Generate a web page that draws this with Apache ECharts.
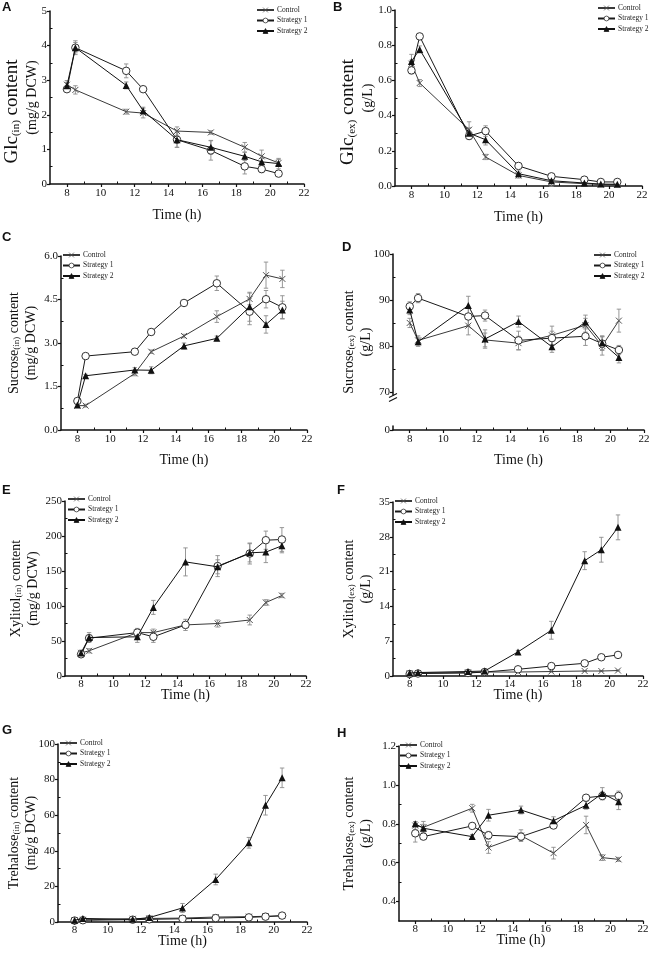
<!DOCTYPE html>
<html><head><meta charset="utf-8">
<script src="https://cdn.jsdelivr.net/npm/echarts@6/dist/echarts.min.js"></script>
<style>html,body{margin:0;padding:0;background:#fff}#c{width:658px;height:964px}</style>
</head><body><div id="c"></div>
<script>
// ---------------- DATA ----------------
const times = [8, 8.5, 11.5, 12.5, 14.5, 16.5, 18.5, 19.5, 20.5];
const xTickValues = [8, 10, 12, 14, 16, 18, 20, 22];
const xMinorValues = [9, 11, 13, 15, 17, 19, 21];
const seriesNames = ['Control', 'Strategy 1', 'Strategy 2'];
const panelLetters = ['A', 'B', 'C', 'D', 'E', 'F', 'G', 'H'];
const xName = 'Time (h)';

// y-axis names: [compound, subscript, line-1 tail, line 2]
const yNameA = ['Glc', '(in)', ' content', '(mg/g DCW)'];
const yNameB = ['Glc', '(ex)', ' content', '(g/L)'];
const yNameC = ['Sucrose', '(in)', ' content', '(mg/g DCW)'];
const yNameD = ['Sucrose', '(ex)', ' content', '(g/L)'];
const yNameE = ['Xylitol', '(in)', ' content', '(mg/g DCW)'];
const yNameF = ['Xylitol', '(ex)', ' content', '(g/L)'];
const yNameG = ['Trehalose', '(in)', ' content', '(mg/g DCW)'];
const yNameH = ['Trehalose', '(ex)', ' content', '(g/L)'];

// y tick labels and minor ticks
const yTicksA = [0, 1, 2, 3, 4, 5];           const yMinorA = [0.5, 1.5, 2.5, 3.5, 4.5];
const yTicksB = [0, 0.2, 0.4, 0.6, 0.8, 1.0]; const yMinorB = [0.1, 0.3, 0.5, 0.7, 0.9];
const yTicksC = [0, 1.5, 3.0, 4.5, 6.0];      const yMinorC = [0.75, 2.25, 3.75, 5.25];
const yTicksD = [0, 70, 80, 90, 100];         const yMinorD = [75, 85, 95];
const yTicksE = [0, 50, 100, 150, 200, 250];  const yMinorE = [25, 75, 125, 175, 225];
const yTicksF = [0, 7, 14, 21, 28, 35];       const yMinorF = [3.5, 10.5, 17.5, 24.5, 31.5];
const yTicksG = [0, 20, 40, 60, 80, 100];     const yMinorG = [10, 30, 50, 70, 90];
const yTicksH = [0.4, 0.6, 0.8, 1.0, 1.2];    const yMinorH = [0.5, 0.7, 0.9, 1.1];
const yRangeH = [0.3, 1.2];
const yBreakD = {start: 1, end: 69, gap: 6.3};

// Panel A: Glc(in)
const glcInControl = [2.87, 2.72, 2.09, 2.05, 1.53, 1.49, 1.06, 0.80, 0.61];
const glcInControlErr = [0.12, 0.12, 0.07, 0.14, 0.12, 0.05, 0.14, 0.18, 0.10];
const glcInS1 = [2.74, 3.94, 3.27, 2.74, 1.28, 0.97, 0.51, 0.43, 0.30];
const glcInS1Err = [0.06, 0.15, 0.20, 0.08, 0.22, 0.28, 0.22, 0.10, 0.05];
const glcInS2 = [2.84, 3.94, 2.85, 2.12, 1.28, 1.06, 0.80, 0.64, 0.59];
const glcInS2Err = [0.10, 0.20, 0.10, 0.10, 0.22, 0.20, 0.12, 0.10, 0.15];

// Panel B: Glc(ex)
const glcExControl = [0.695, 0.585, 0.32, 0.165, 0.06, 0.023, 0.013, 0.008, 0.008];
const glcExControlErr = [0.02, 0.02, 0.045, 0.015, 0.015, 0.025, 0.005, 0.005, 0.005];
const glcExS1 = [0.657, 0.85, 0.284, 0.312, 0.114, 0.055, 0.036, 0.023, 0.023];
const glcExS1Err = [0.02, 0.01, 0.02, 0.03, 0.015, 0.01, 0.01, 0.005, 0.005];
const glcExS2 = [0.708, 0.776, 0.30, 0.263, 0.07, 0.03, 0.017, 0.011, 0.01];
const glcExS2Err = [0.04, 0.02, 0.03, 0.03, 0.015, 0.01, 0.005, 0.005, 0.005];

// Panel C: Sucrose(in)
const sucInControl = [0.84, 0.84, 1.95, 2.70, 3.24, 3.91, 4.52, 5.34, 5.21];
const sucInControlErr = [0.05, 0.05, 0.08, 0.06, 0.06, 0.20, 0.20, 0.45, 0.30];
const sucInS1 = [1.00, 2.55, 2.70, 3.38, 4.38, 5.06, 4.08, 4.51, 4.23];
const sucInS1Err = [0.05, 0.05, 0.05, 0.05, 0.05, 0.25, 0.45, 0.30, 0.40];
const sucInS2 = [0.86, 1.87, 2.07, 2.06, 2.90, 3.16, 4.25, 3.64, 4.14];
const sucInS2Err = [0.05, 0.05, 0.08, 0.12, 0.10, 0.08, 0.50, 0.30, 0.30];

// Panel D: Sucrose(ex)
const sucExControl = [85.0, 81.2, 84.4, 81.3, 80.6, 82.3, 84.5, 80.0, 85.5];
const sucExControlErr = [1.0, 1.0, 2.0, 1.5, 1.5, 2.0, 1.5, 2.0, 2.5];
const sucExS1 = [88.6, 90.4, 86.4, 86.6, 81.2, 81.7, 82.1, 80.5, 79.1];
const sucExS1Err = [1.0, 1.0, 2.0, 1.2, 2.0, 1.5, 2.0, 1.5, 1.0];
const sucExS2 = [87.8, 80.9, 88.8, 81.5, 85.3, 79.8, 85.2, 80.7, 77.5];
const sucExS2Err = [1.0, 1.0, 2.0, 2.0, 1.2, 1.2, 1.5, 1.5, 1.2];

// Panel E: Xylitol(in)
const xylInControl = [33, 36, 62, 62, 73, 75, 80, 105, 115];
const xylInControlErr = [3, 3, 5, 5, 5, 5, 7, 4, 3];
const xylInS1 = [31, 54, 62, 56, 73, 157, 175, 194, 195];
const xylInS1Err = [3, 5, 6, 8, 8, 15, 15, 13, 17];
const xylInS2 = [33, 55, 56, 98, 163, 156, 176, 177, 186];
const xylInS2Err = [4, 7, 8, 10, 20, 10, 13, 15, 10];

// Panel F: Xylitol(ex)
const xylExControl = [0.5, 0.6, 0.7, 0.8, 0.8, 0.9, 1.0, 1.0, 1.1];
const xylExControlErr = [0.1, 0.1, 0.1, 0.1, 0.1, 0.1, 0.1, 0.1, 0.1];
const xylExS1 = [0.4, 0.5, 0.6, 0.8, 1.35, 2.0, 2.55, 3.77, 4.24];
const xylExS1Err = [0.1, 0.1, 0.1, 0.1, 0.2, 0.2, 0.2, 0.3, 0.3];
const xylExS2 = [0.6, 0.7, 0.9, 1.0, 4.85, 9.2, 23.2, 25.4, 29.9];
const xylExS2Err = [0.1, 0.1, 0.2, 0.2, 0.3, 1.8, 1.8, 2.5, 2.5];

// Panel G: Trehalose(in)
const treInControl = [1.0, 1.2, 1.8, 2.0, 2.2, 2.8, 3.0, 3.2, 3.4];
const treInControlErr = [0.5, 0.5, 0.5, 0.5, 0.5, 0.5, 0.6, 0.6, 0.6];
const treInS1 = [0.8, 1.0, 1.3, 1.5, 1.8, 2.2, 2.6, 3.0, 3.6];
const treInS1Err = [0.4, 0.4, 0.4, 0.4, 0.5, 0.5, 0.5, 0.6, 0.6];
const treInS2 = [1.0, 2.0, 1.5, 2.5, 7.9, 23.9, 44.5, 65.6, 81.0];
const treInS2Err = [0.5, 0.5, 0.5, 0.8, 2.5, 3.0, 3.0, 5.5, 5.5];

// Panel H: Trehalose(ex)
const treExControl = [0.791, 0.782, 0.88, 0.678, 0.739, 0.649, 0.794, 0.626, 0.617];
const treExControlErr = [0.02, 0.03, 0.02, 0.03, 0.03, 0.03, 0.045, 0.015, 0.01];
const treExS1 = [0.751, 0.734, 0.789, 0.741, 0.734, 0.791, 0.934, 0.943, 0.943];
const treExS1Err = [0.045, 0.01, 0.01, 0.02, 0.02, 0.01, 0.01, 0.02, 0.025];
const treExS2 = [0.80, 0.777, 0.734, 0.844, 0.871, 0.816, 0.895, 0.956, 0.913];
const treExS2Err = [0.01, 0.02, 0.01, 0.03, 0.02, 0.02, 0.02, 0.03, 0.04];

// ---------------- LAYOUT / BUILD ----------------
const SERIF = '"Liberation Serif", "Times New Roman", serif';
const panels = [
  {vals:[glcInControl,glcInS1,glcInS2], errs:[glcInControlErr,glcInS1Err,glcInS2Err], yName:yNameA, ticks:yTicksA, minor:yMinorA, dec:0, big:true,
   grid:{left:50,top:11,width:254,height:173}, legend:{left:256,top:6}, letter:{left:2,top:1}, yGap:7, xGap:24, xMargin:4},
  {vals:[glcExControl,glcExS1,glcExS2], errs:[glcExControlErr,glcExS1Err,glcExS2Err], yName:yNameB, ticks:yTicksB, minor:yMinorB, dec:1, big:true,
   grid:{left:395,top:10,width:247,height:176}, legend:{left:597,top:4}, letter:{left:333,top:1}, yGap:16, xGap:24, xMargin:4},
  {vals:[sucInControl,sucInS1,sucInS2], errs:[sucInControlErr,sucInS1Err,sucInS2Err], yName:yNameC, ticks:yTicksC, minor:yMinorC, dec:1,
   grid:{left:61,top:256,width:246,height:174}, legend:{left:62,top:251}, letter:{left:2,top:231}, yGap:19, xGap:23, xMargin:4},
  {vals:[sucExControl,sucExS1,sucExS2], errs:[sucExControlErr,sucExS1Err,sucExS2Err], yName:yNameD, ticks:yTicksD, minor:yMinorD, dec:0,
   grid:{left:393,top:254,width:251,height:176}, legend:{left:593,top:251}, letter:{left:342,top:241}, yGap:16, xGap:23, xMargin:4, brk:yBreakD},
  {vals:[xylInControl,xylInS1,xylInS2], errs:[xylInControlErr,xylInS1Err,xylInS2Err], yName:yNameE, ticks:yTicksE, minor:yMinorE, dec:0,
   grid:{left:65,top:501,width:241,height:175}, legend:{left:67,top:495}, letter:{left:2,top:484}, yGap:21, xGap:12, xMargin:3},
  {vals:[xylExControl,xylExS1,xylExS2], errs:[xylExControlErr,xylExS1Err,xylExS2Err], yName:yNameF, ticks:yTicksF, minor:yMinorF, dec:0,
   grid:{left:393,top:502,width:250,height:174}, legend:{left:394,top:497}, letter:{left:337,top:484}, yGap:16, xGap:12, xMargin:3},
  {vals:[treInControl,treInS1,treInS2], errs:[treInControlErr,treInS1Err,treInS2Err], yName:yNameG, ticks:yTicksG, minor:yMinorG, dec:0,
   grid:{left:58,top:744,width:249,height:178}, legend:{left:59,top:739}, letter:{left:2,top:724}, yGap:16, xGap:12, xMargin:3},
  {vals:[treExControl,treExS1,treExS2], errs:[treExControlErr,treExS1Err,treExS2Err], yName:yNameH, ticks:yTicksH, minor:yMinorH, dec:1, range:yRangeH,
   grid:{left:399,top:746,width:244,height:175}, legend:{left:399,top:741}, letter:{left:337,top:727}, yGap:22, xGap:12, xMargin:3}
];

const symbols = ['path://M0,0L10,10M10,0L0,10', 'circle', 'triangle'];
const symbolSizes = [6, 7.5, 7];
const lineColors = ['#3a3a3a', '#1a1a1a', '#111'];
const markFill = ['rgba(0,0,0,0)', '#fff', '#111'];
const markBorder = ['#555', '#333', '#111'];

function renderErr(params, api) {
  const x = api.value(0), y = api.value(1), e = api.value(2);
  const t = api.coord([x, y + e]), b = api.coord([x, y - e]);
  const w = 2.2;
  const style = {stroke: '#8c8c8c', lineWidth: 0.9, fill: null};
  return {type: 'group', children: [
    {type: 'line', shape: {x1: t[0], y1: t[1], x2: b[0], y2: b[1]}, style},
    {type: 'line', shape: {x1: t[0] - w, y1: t[1], x2: t[0] + w, y2: t[1]}, style},
    {type: 'line', shape: {x1: b[0] - w, y1: b[1], x2: b[0] + w, y2: b[1]}, style}
  ]};
}

const grids = [], xAxes = [], yAxes = [], series = [], legends = [], titles = [];
const axisLine = {show: true, onZero: false, lineStyle: {color: '#111', width: 1.5}};
const labelStyle = {fontFamily: SERIF, fontSize: 11, color: '#111'};

panels.forEach((p, i) => {
  grids.push(Object.assign({outerBoundsMode: 'none', containLabel: false}, p.grid));
  xAxes.push({
    type: 'value', gridIndex: i, min: 7, max: 22, position: 'bottom',
    name: xName, nameLocation: 'middle', nameGap: p.xGap, nameMoveOverlap: false,
    nameTextStyle: {fontFamily: SERIF, fontSize: 14, color: '#111'},
    axisLine: axisLine, splitLine: {show: false},
    axisTick: {show: true, inside: false, length: 3, lineStyle: {color: '#111', width: 1.2}, customValues: xTickValues},
    axisLabel: Object.assign({margin: p.xMargin, customValues: xTickValues}, labelStyle)
  });
  const n = p.yName;
  const f1 = p.big ? 19 : 14, fs = p.big ? 11 : 9, lh1 = p.big ? 24 : 21;
  const yMin = p.range ? p.range[0] : p.ticks[0];
  const yMax = p.range ? p.range[1] : p.ticks[p.ticks.length - 1];
  const yAx = {
    type: 'value', gridIndex: i, min: yMin, max: yMax, position: 'left',
    name: '{m|' + n[0] + '}{s|' + n[1] + '}{m|' + n[2] + '}' + (p.big ? '{g| }' : '') + '\n{l|' + n[3] + '}',
    nameLocation: 'middle', nameGap: p.yGap, nameMoveOverlap: false,
    nameTextStyle: {fontFamily: SERIF, fontSize: 14, color: '#111',
      rich: {m: {fontFamily: SERIF, fontSize: f1, color: '#111', lineHeight: lh1, verticalAlign: 'bottom'},
             s: {fontFamily: SERIF, fontSize: fs, color: '#111', lineHeight: fs + 4, verticalAlign: 'bottom'},
             g: {fontFamily: SERIF, fontSize: f1, width: 28, lineHeight: lh1},
             l: {fontFamily: SERIF, fontSize: 14, color: '#111', lineHeight: 21}}},
    axisLine: axisLine, splitLine: {show: false},
    axisTick: {show: true, inside: false, length: 3, lineStyle: {color: '#111', width: 1.2}, customValues: p.ticks},
    axisLabel: Object.assign({margin: 3, customValues: p.ticks,
      formatter: (v) => p.dec ? Number(v).toFixed(p.dec) : String(Math.round(v))}, labelStyle)
  };
  if (p.brk) {
    yAx.breaks = [{start: p.brk.start, end: p.brk.end, gap: p.brk.gap}];
    yAx.breakArea = {show: false};
  }
  yAxes.push(yAx);

  seriesNames.forEach((name, k) => {
    series.push({
      type: 'custom', name: name + ' error', xAxisIndex: i, yAxisIndex: i, z: 1, silent: true,
      renderItem: renderErr, encode: {x: 0, y: 1}, clip: false,
      data: times.map((t, j) => [t, p.vals[k][j], p.errs[k][j]])
    });
  });
  seriesNames.forEach((name, k) => {
    series.push({
      type: 'line', name: name, xAxisIndex: i, yAxisIndex: i, z: 3 + k,
      symbol: symbols[k], symbolSize: symbolSizes[k], showAllSymbol: true,
      lineStyle: {color: lineColors[k], width: 1},
      itemStyle: {color: markFill[k], borderColor: markBorder[k], borderWidth: k === 2 ? 0 : 1},
      emphasis: {disabled: true}, animation: false,
      data: times.map((t, j) => [t, p.vals[k][j]])
    });
  });
  legends.push({
    data: seriesNames, orient: 'vertical', left: p.legend.left, top: p.legend.top,
    itemWidth: 17, itemHeight: 6, itemGap: 2.5, padding: 0, selectedMode: false,
    itemStyle: {borderWidth: 0.8},
    textStyle: {fontFamily: SERIF, fontSize: 7.5, color: '#222', padding: [0, 0, 0, -2]}
  });
  titles.push({text: panelLetters[i], left: p.letter.left, top: p.letter.top, padding: 0,
    textStyle: {fontFamily: '"Liberation Sans", Arial, sans-serif', fontWeight: 'bold', fontSize: 13, color: '#111'}});
});

// minor tick axes (inside ticks, no line/labels)
panels.forEach((p, i) => {
  const yMin = p.range ? p.range[0] : p.ticks[0];
  const yMax = p.range ? p.range[1] : p.ticks[p.ticks.length - 1];
  xAxes.push({type: 'value', gridIndex: i, min: 7, max: 22, position: 'bottom',
    axisLine: {show: false}, splitLine: {show: false}, axisLabel: {show: false},
    axisTick: {show: true, inside: true, length: 2.5, lineStyle: {color: '#111', width: 1}, customValues: xMinorValues}});
  const ya = {type: 'value', gridIndex: i, min: yMin, max: yMax, position: 'left',
    axisLine: {show: false}, splitLine: {show: false}, axisLabel: {show: false},
    axisTick: {show: true, inside: true, length: 2.5, lineStyle: {color: '#111', width: 1}, customValues: p.minor}};
  if (p.brk) { ya.breaks = [{start: p.brk.start, end: p.brk.end, gap: p.brk.gap}]; ya.breakArea = {show: false}; }
  yAxes.push(ya);
});

const chart = echarts.init(document.getElementById('c'), null, {renderer: 'canvas'});
chart.setOption({
  backgroundColor: '#fff', animation: false,
  title: titles, legend: legends, grid: grids, xAxis: xAxes, yAxis: yAxes, series: series
});

// break mark on panel D's y axis
const dIdx = 3;
const bp = chart.convertToPixel({xAxisIndex: dIdx, yAxisIndex: dIdx}, [7, yBreakD.end]);
if (bp && isFinite(bp[0]) && isFinite(bp[1])) {
  const x0 = bp[0], y0 = bp[1];
  chart.setOption({graphic: [
    {type: 'rect', shape: {x: x0 - 2, y: y0 - 1, width: 4, height: 4}, style: {fill: '#fff'}, z: 100},
    {type: 'line', shape: {x1: x0 - 4, y1: y0 + 1, x2: x0 + 4, y2: y0 - 3}, style: {stroke: '#111', lineWidth: 1.2}, z: 101},
    {type: 'line', shape: {x1: x0 - 4, y1: y0 + 5, x2: x0 + 4, y2: y0 + 1}, style: {stroke: '#111', lineWidth: 1.2}, z: 101}
  ]});
}
</script>
</body></html>
